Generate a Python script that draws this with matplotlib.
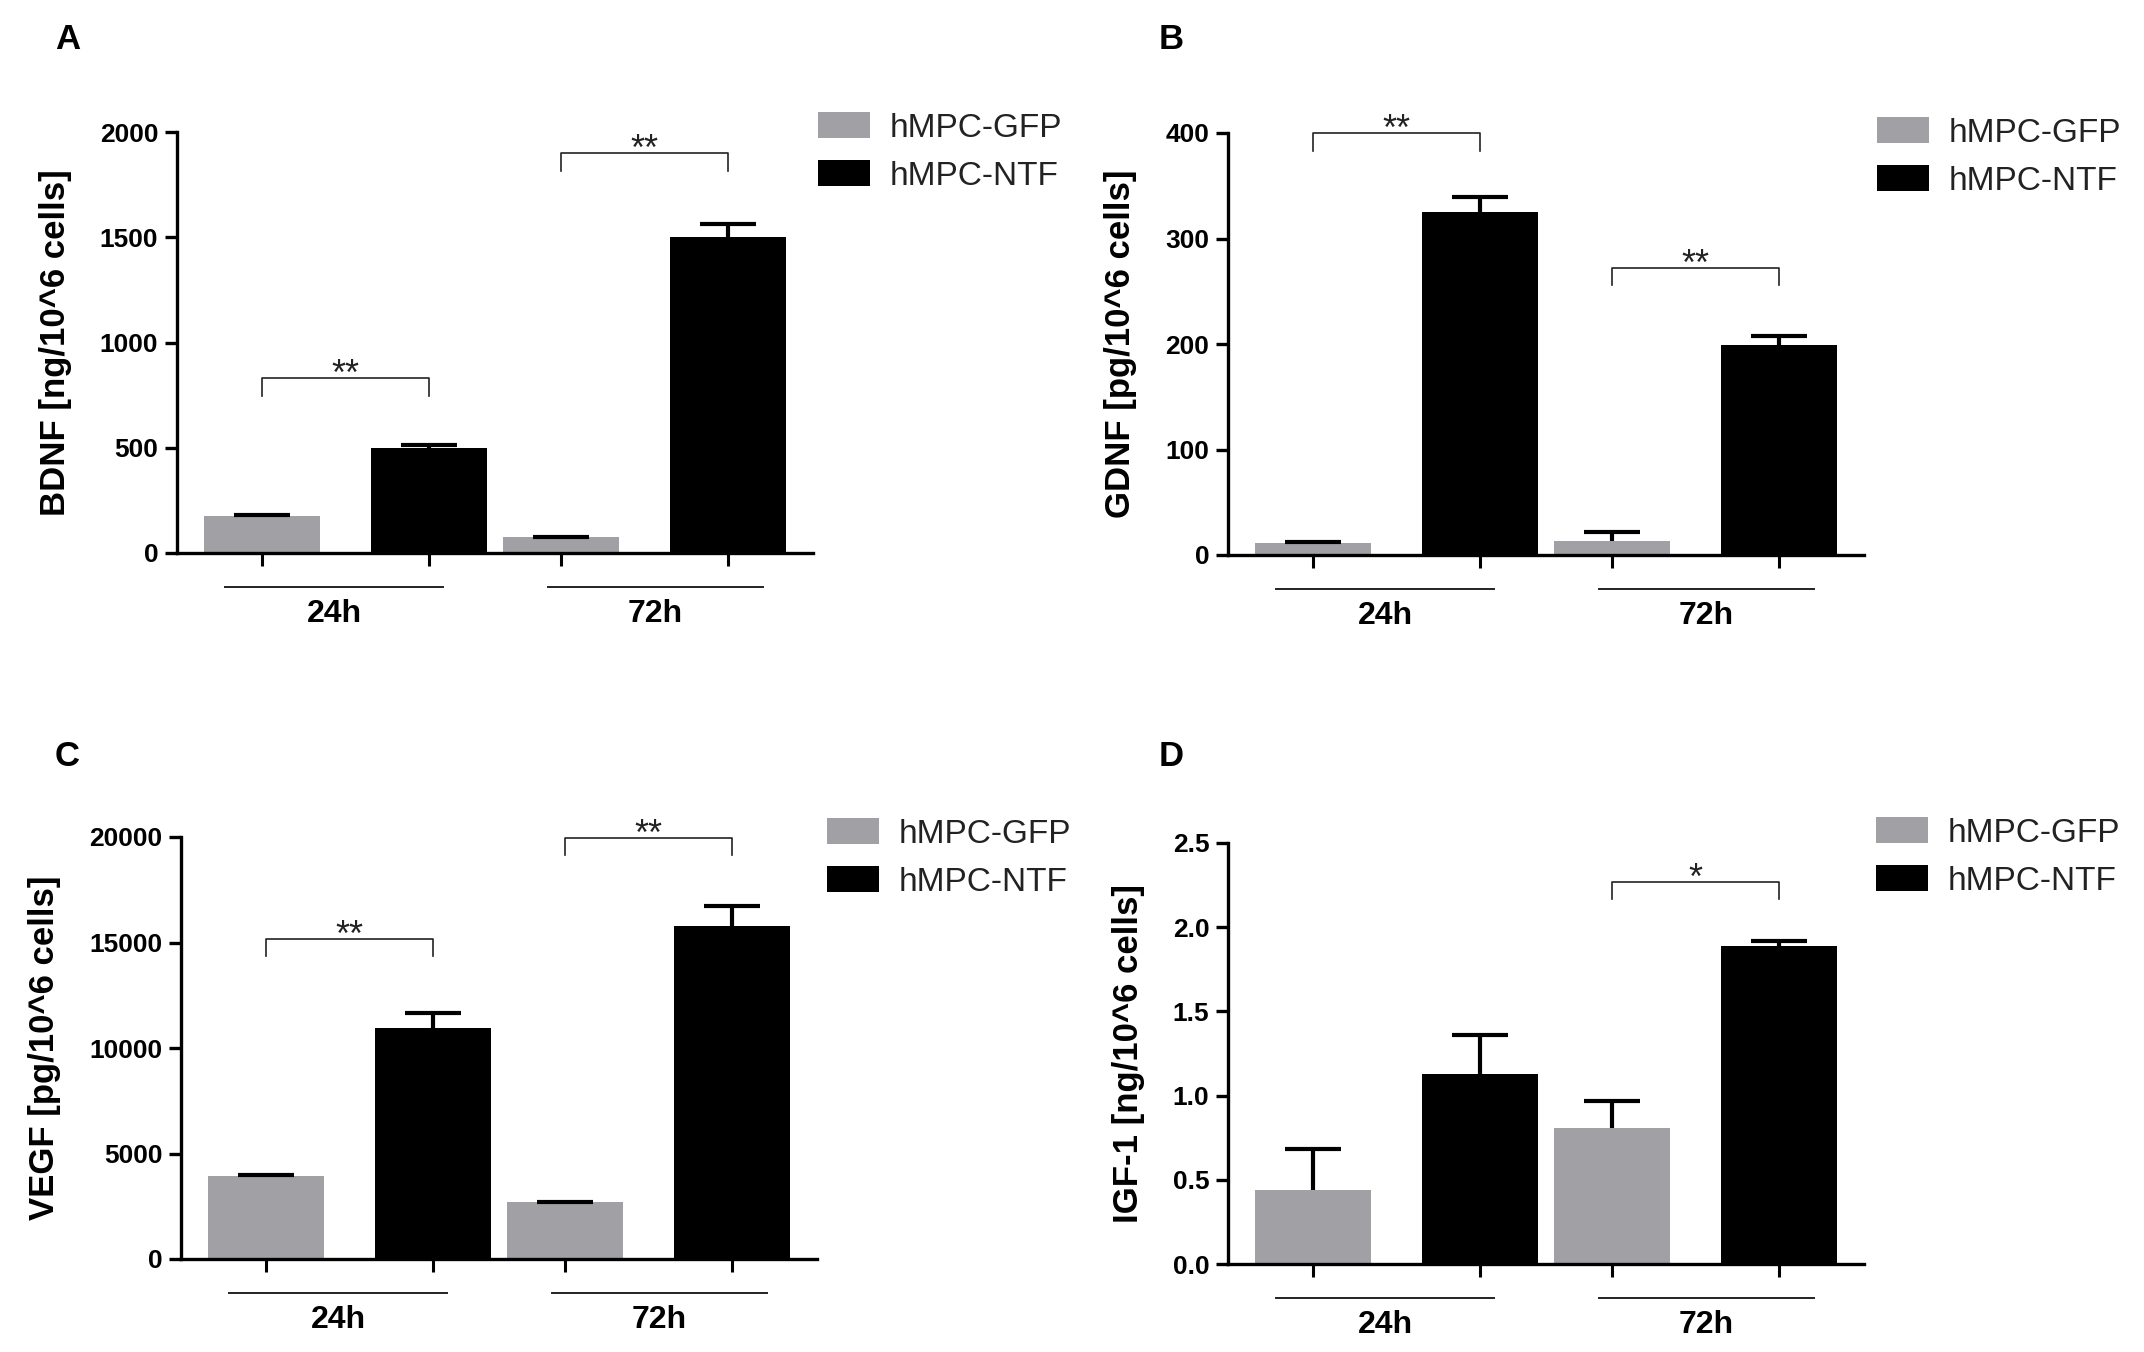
import numpy as np
import matplotlib
matplotlib.use("Agg")
from matplotlib import pyplot as plt
from matplotlib.patches import Patch
from matplotlib.ticker import FormatStrFormatter

plt.rcParams['font.family'] = ['Liberation Sans', 'DejaVu Sans']

groups = ['24h', '72h']
series = ['hMPC-GFP', 'hMPC-NTF']
bar_colors = ['#a1a1a5', '#000000']

# bar order: GFP 24h, NTF 24h, GFP 72h, NTF 72h
bdnf_mean = [177, 500, 74, 1502]
bdnf_err = [2, 15, 2, 62]
gdnf_mean = [11.7, 325, 13.6, 199]
gdnf_err = [1, 14, 8, 8.6]
vegf_mean = [3950, 10970, 2680, 15790]
vegf_err = [20, 680, 40, 960]
igf_mean = [0.44, 1.13, 0.81, 1.89]
igf_err = [0.24, 0.23, 0.155, 0.03]

# significance brackets: (bar a, bar b, height, drop, label)
bdnf_sig = [(0, 1, 832, 85, '**'), (2, 3, 1902, 85, '**')]
gdnf_sig = [(0, 1, 400, 17, '**'), (2, 3, 272, 16, '**')]
vegf_sig = [(0, 1, 15150, 800, '**'), (2, 3, 19940, 800, '**')]
igf_sig = [(2, 3, 2.27, 0.1, '*')]

positions = np.array([0, 1, 1.79, 2.79])
bar_width = 0.695
group_lines = [(-0.22, 1.085), (1.71, 3.0)]

W, H = 2144, 1352
fig = plt.figure(figsize=(W / 100, H / 100), dpi=100)


def px_axes(left, top, bottom):
    return fig.add_axes([left / W, 1 - bottom / H, 636 / W, (bottom - top) / H])


def draw_panel(ax, means, errs, sig, ylabel, ymax, ystep, fmt, legend_xy):
    colors = [bar_colors[i % 2] for i in range(len(means))]
    ax.bar(positions, means, width=bar_width, color=colors, edgecolor='none', zorder=2)
    eb = ax.errorbar(positions, means, yerr=[np.zeros(len(errs)), errs], fmt='none',
                     ecolor='black', elinewidth=3, capsize=20, capthick=3, zorder=3)
    # only the upper cap is drawn
    eb[1][0].set_visible(False)
    ax.set_xlim(-0.51, 3.30)
    ax.set_ylim(0, ymax)
    ax.set_yticks(np.arange(0, ymax + ystep / 2, ystep))
    ax.yaxis.set_major_formatter(FormatStrFormatter(fmt))
    ax.set_xticks(positions)
    ax.set_xticklabels([])
    for s in ['top', 'right']:
        ax.spines[s].set_visible(False)
    for s in ['left', 'bottom']:
        ax.spines[s].set_linewidth(2.4)
    ax.tick_params(axis='y', direction='out', length=8.5, width=2.4, pad=5,
                   labelsize=19)
    ax.tick_params(axis='x', direction='out', length=9, width=2.2)
    for lab in ax.get_yticklabels():
        lab.set_fontweight('bold')
    ax.set_ylabel(ylabel, fontsize=25, fontweight='bold', labelpad=20)

    # group underlines and labels
    trans = ax.get_xaxis_transform()
    for (x0, x1), g in zip(group_lines, groups):
        ax.plot([x0, x1], [-0.081, -0.081], color='#222222', lw=1.4,
                transform=trans, clip_on=False)
        ax.text((x0 + x1) / 2, -0.145, g, transform=trans, ha='center', va='center',
                fontsize=23, fontweight='bold')

    # significance brackets
    for a, b, y, d, lab in sig:
        xa, xb = positions[a], positions[b]
        ax.plot([xa, xa, xb, xb], [y - d, y, y, y - d], color='#222222', lw=1.2,
                clip_on=False, zorder=4)
        ax.annotate(lab, xy=((xa + xb) / 2, y), xytext=(0, -5), textcoords='offset points',
                    ha='center', va='baseline', fontsize=26, color='#222222',
                    annotation_clip=False)

    handles = [Patch(facecolor=c, edgecolor='none') for c in bar_colors]
    ax.legend(handles, series, loc='upper left', bbox_to_anchor=legend_xy,
              frameon=False, borderpad=0, borderaxespad=0, fontsize=24,
              handlelength=1.55, handleheight=0.83, handletextpad=0.6,
              labelspacing=0.5, labelcolor='#222222')


axA = px_axes(177, 132, 553)
axB = px_axes(1228, 133, 555)
axC = px_axes(181, 837, 1259)
axD = px_axes(1228, 843, 1264)


def leg_anchor(left, top, bottom, lx, ly):
    return ((lx - left) / 636, (bottom - ly) / (bottom - top))


draw_panel(axA, bdnf_mean, bdnf_err, bdnf_sig, 'BDNF [ng/10^6 cells]', 2000, 500, '%d',
           leg_anchor(177, 132, 553, 818, 112))
draw_panel(axB, gdnf_mean, gdnf_err, gdnf_sig, 'GDNF [pg/10^6 cells]', 400, 100, '%d',
           leg_anchor(1228, 133, 555, 1877, 117))
draw_panel(axC, vegf_mean, vegf_err, vegf_sig, 'VEGF [pg/10^6 cells]', 20000, 5000, '%d',
           leg_anchor(181, 837, 1259, 827, 818))
draw_panel(axD, igf_mean, igf_err, igf_sig, 'IGF-1 [ng/10^6 cells]', 2.5, 0.5, '%.1f',
           leg_anchor(1228, 843, 1264, 1876, 817))

for letter, x, y in [('A', 55, 23), ('B', 1159, 23), ('C', 55, 740), ('D', 1159, 740)]:
    fig.text(x / W, 1 - y / H, letter, ha='left', va='top', fontsize=25, fontweight='bold')

fig.savefig('out.png', dpi=100)
